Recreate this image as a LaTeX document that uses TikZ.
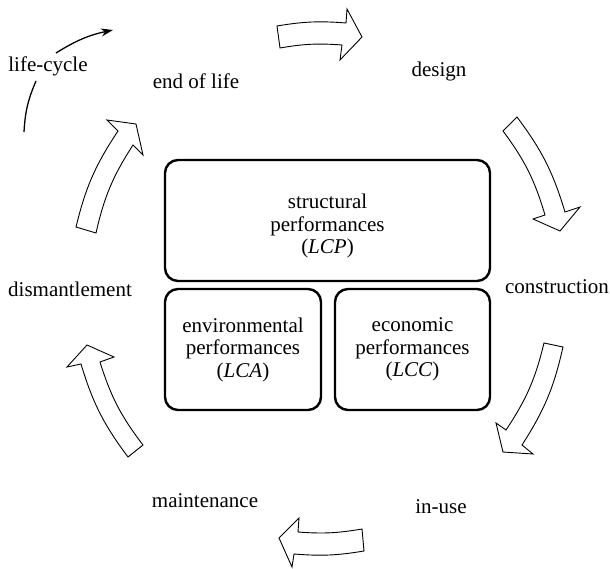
\documentclass[tikz,border=0pt]{standalone}
\usepackage{fontspec}
\setmainfont{Liberation Serif}
\usetikzlibrary{arrows.meta}
\begin{document}
\begin{tikzpicture}[x=1pt,y=-1pt,
  lbl/.style={font=\fontsize{21}{23}\selectfont, inner sep=0pt},
  perf/.style={draw, line width=2.4pt, rounded corners=13pt, align=center,
    font=\fontsize{21}{22.5}\selectfont, inner sep=0pt},
  perftext/.style={align=center, font=\fontsize{21}{22.5}\selectfont, inner sep=0pt},
  blockarrow/.style={draw, line width=0.9pt, fill=white, line join=miter},
  cyclearrow/.style={line width=1.3pt}]
\useasboundingbox (0,0) rectangle (610,569);

% central boxes
\node[perf, minimum width=325pt, minimum height=121pt] (lcp) at (327.5,220.5) {};
\node[perftext] (lcptext) at (327.5,226)
  {structural\\performances\\(\textit{LCP})};
\node[perf, minimum width=156pt, minimum height=121pt] (lca) at (243,349.5)
  {environmental\\performances\\(\textit{LCA})};
\node[perf, minimum width=155pt, minimum height=121pt] (lcc) at (412.5,349.5)
  {economic\\performances\\(\textit{LCC})};

% phase labels
\node[lbl, anchor=base] (lifecycle) at (48,72) {life-cycle};
\node[lbl, anchor=base] (eol) at (196,89) {end of life};
\node[lbl, anchor=base] (design) at (439,77) {design};
\node[lbl, anchor=base] (constr) at (557,293) {construction};
\node[lbl, anchor=base] (dism) at (70,296) {dismantlement};
\node[lbl, anchor=base] (inuse) at (441,513) {in-use};
\node[lbl, anchor=base] (maint) at (205,507) {maintenance};

% block arrows
\draw[blockarrow] (277,26) to[bend left=7] (346,23) -- (347,9) -- (362,37)
  -- (340,60) -- (342,45) to[bend right=7] (280,48) -- cycle;
\draw[blockarrow] (517,117) to[bend left=10] (565,212) -- (580,207) -- (560,231)
  -- (533,219) -- (545,215) to[bend right=10] (503,131) -- cycle;
\draw[blockarrow] (563,347) to[bend left=10] (522,445) -- (533,454) -- (503,452)
  -- (496,423) -- (506,430) to[bend right=10] (544,343) -- cycle;
\draw[blockarrow] (364,551) to[bend left=7] (294,554) -- (292,567) -- (279,538)
  -- (299,518) -- (298,532) to[bend right=7] (362,529) -- cycle;
\draw[blockarrow] (128,457) to[bend left=10] (81,364) -- (67,367) -- (87,345)
  -- (114,357) -- (100,362) to[bend right=10] (143,445) -- cycle;
\draw[blockarrow] (76,227) to[bend left=10] (118,131) -- (107,120) -- (136,124)
  -- (143,155) -- (133,145) to[bend right=10] (96,233) -- cycle;

% life-cycle arrow
\coordinate (lc1) at (24,132);
\coordinate (lc2) at (36,81);
\coordinate (lc3) at (56,53);
\coordinate (lc4) at (113,30);
\draw[cyclearrow] (lc1) to[bend left=10] (lc2);
\draw[cyclearrow, -{Stealth[length=12pt,width=8pt]}] (lc3) to[bend left=10] (lc4);
\end{tikzpicture}
\end{document}
